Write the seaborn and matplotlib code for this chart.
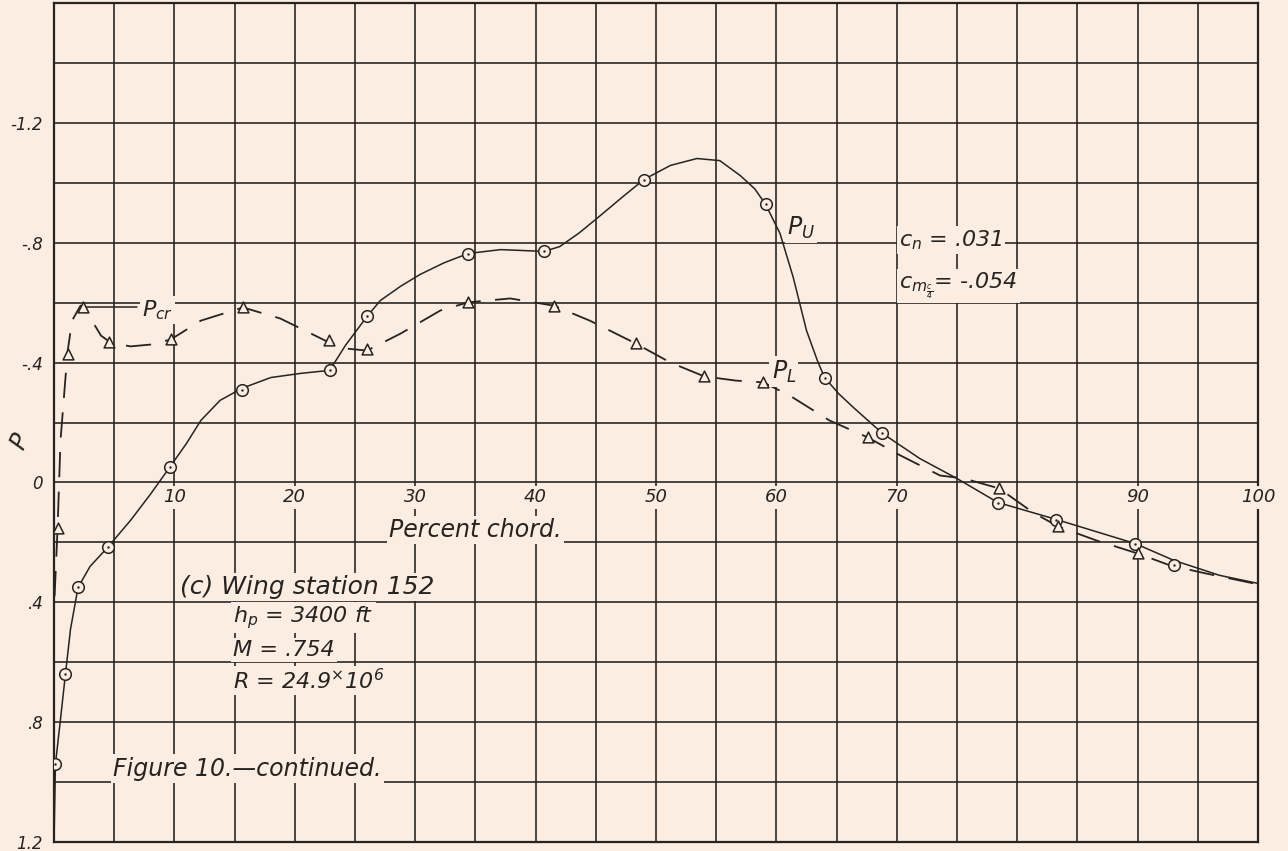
import numpy as np
import pandas as pd
import matplotlib
matplotlib.use("Agg")
import matplotlib.pyplot as plt
import seaborn as sns

# ---------------- data ----------------
# Upper-surface pressure coefficient, measured orifices (circles)
pu_x = [0.1, 0.95, 2.0, 4.45, 9.6, 15.6, 22.9, 26.0, 34.4, 40.7, 49.0, 59.1,
        64.0, 68.8, 78.4, 83.2, 89.8, 93.0]
pu_y = [0.94, 0.64, 0.35, 0.217, -0.05, -0.31, -0.374, -0.554, -0.764, -0.771,
        -1.01, -0.928, -0.35, -0.164, 0.067, 0.124, 0.204, 0.277]
# Upper-surface faired curve
pu_fx = [0.0, 0.12, 0.54, 0.95, 1.37, 2.0, 3.0, 4.45, 6.35, 8.0, 9.6, 11.0,
         12.2, 13.8, 15.6, 18.0, 20.5, 22.9, 24.2, 26.0, 27.1, 28.8, 30.4,
         32.4, 34.4, 37.1, 40.7, 42.0, 43.6, 45.3, 47.2, 49.0, 51.2, 53.4,
         55.3, 57.0, 58.2, 59.1, 60.3, 61.4, 62.5, 63.4, 64.0, 65.2, 66.4,
         68.8, 71.9, 75.0, 78.4, 83.2, 89.8, 93.0, 96.8, 100.0]
pu_fy = [1.2, 0.94, 0.79, 0.64, 0.49, 0.35, 0.28, 0.217, 0.127, 0.04, -0.05,
         -0.13, -0.207, -0.274, -0.314, -0.35, -0.364, -0.374, -0.457, -0.554,
         -0.607, -0.655, -0.694, -0.733, -0.764, -0.777, -0.771, -0.787,
         -0.832, -0.888, -0.952, -1.011, -1.058, -1.081, -1.074, -1.024,
         -0.98, -0.928, -0.831, -0.684, -0.507, -0.407, -0.35, -0.295, -0.25,
         -0.164, -0.08, -0.013, 0.067, 0.123, 0.204, 0.26, 0.31, 0.337]

# Lower-surface pressure coefficient, measured orifices (triangles)
pl_x = [0.37, 1.2, 2.4, 4.6, 9.7, 15.7, 22.8, 26.0, 34.4, 41.5, 48.3, 54.0,
        58.9, 67.6, 78.5, 83.4, 90.0]
pl_y = [0.153, -0.43, -0.585, -0.467, -0.477, -0.584, -0.474, -0.444, -0.601,
        -0.59, -0.464, -0.354, -0.334, -0.15, 0.02, 0.147, 0.237]
# Lower-surface faired curve
pl_fx = [0.05, 0.3, 0.54, 1.12, 1.5, 2.2, 2.9, 3.9, 4.7, 6.35, 8.0, 9.7, 12.2,
         15.7, 18.8, 22.7, 24.2, 26.0, 28.8, 32.1, 34.4, 37.9, 41.5, 44.5,
         48.3, 51.2, 54.0, 56.6, 58.9, 61.1, 64.4, 67.6, 70.3, 73.6, 75.6,
         78.5, 81.3, 83.4, 86.6, 90.0, 92.7, 95.7, 100.0]
pl_fy = [0.38, 0.15, -0.14, -0.434, -0.54, -0.59, -0.557, -0.49, -0.467,
         -0.454, -0.46, -0.477, -0.54, -0.584, -0.547, -0.47, -0.447, -0.44,
         -0.497, -0.574, -0.601, -0.614, -0.59, -0.54, -0.464, -0.40, -0.354,
         -0.34, -0.334, -0.29, -0.207, -0.15, -0.09, -0.023, -0.013, 0.02, 0.1,
         0.147, 0.194, 0.237, 0.277, 0.304, 0.34]

# Critical pressure coefficient marker
pcr_x = [2.45, 6.9]
pcr_y = [-0.584, -0.584]

# Axis labels / ticks
x_tick_vals = [10, 20, 30, 40, 50, 60, 70, 90, 100]
x_tick_text = ["10", "20", "30", "40", "50", "60", "70", "90", "100"]
y_label_vals = [-1.2, -0.8, -0.4, 0.0, 0.4, 0.8, 1.2]
y_label_text = ["-1.2", "-.8", "-.4", "0", ".4", ".8", "1.2"]

# ---------------- styling ----------------
paper = "#fbede1"
ink = "#262321"

sns.set_theme(style="white")
plt.rcParams["font.family"] = ["DejaVu Sans"]
plt.rcParams["font.style"] = "italic"
plt.rcParams["mathtext.fontset"] = "dejavusans"
plt.rcParams["mathtext.default"] = "it"

fig = plt.figure(figsize=(12.88, 8.51), dpi=100, facecolor=paper)
ax = fig.add_axes([54 / 1288, 1 - 842 / 851, (1258 - 54) / 1288, (842 - 3) / 851])
ax.set_facecolor(paper)

ax.set_xlim(0, 100)
ax.set_ylim(1.2, -1.6)

ax.set_xticks(np.arange(0, 101, 5))
ax.set_xticklabels([])
yt = np.round(np.arange(-1.6, 1.21, 0.2), 2)
ax.set_yticks(yt)
lab_map = {round(v, 2): t for v, t in zip(y_label_vals, y_label_text)}
ax.set_yticklabels([lab_map.get(round(v, 2), "") for v in yt],
                   fontsize=12, style="italic", color=ink)
ax.tick_params(axis="both", length=0, pad=8)
ax.grid(True, color=ink, linewidth=1.3, alpha=0.9)
ax.set_axisbelow(True)
for s in ax.spines.values():
    s.set_color(ink)
    s.set_linewidth(1.6)

bg = dict(facecolor=paper, edgecolor="none", pad=1.5)

# ---------------- curves ----------------
df_u = pd.DataFrame({"x": pu_fx, "y": pu_fy})
df_l = pd.DataFrame({"x": pl_fx, "y": pl_fy})
sns.lineplot(data=df_u, x="x", y="y", sort=False, ax=ax, color=ink,
             linewidth=1.1, zorder=3)
sns.lineplot(data=df_l, x="x", y="y", sort=False, ax=ax, color=ink,
             linewidth=1.3, linestyle=(0, (14, 8)), zorder=3)
sns.lineplot(x=pcr_x, y=pcr_y, ax=ax, color=ink, linewidth=1.1, zorder=3)

sns.scatterplot(x=pu_x, y=pu_y, ax=ax, marker="o", s=70, facecolor=paper,
                edgecolor=ink, linewidth=1.1, zorder=4)
sns.scatterplot(x=pu_x, y=pu_y, ax=ax, marker="o", s=3, color=ink,
                linewidth=0, zorder=5)
sns.scatterplot(x=pl_x, y=pl_y, ax=ax, marker="^", s=60, facecolor=paper,
                edgecolor=ink, linewidth=1.1, zorder=4)

ax.set_xlabel("")
ax.set_ylabel("")
fig.text(20 / 1288, 1 - 442 / 851, "P", fontsize=17, style="italic",
         color=ink, rotation=65, ha="center", va="center")

# ---------------- x tick labels drawn inside the grid ----------------
for xv, tx in zip(x_tick_vals, x_tick_text):
    ax.text(xv, 0.05, tx, fontsize=13, style="italic", color=ink,
            ha="center", va="center", bbox=bg, zorder=6)

# ---------------- annotations ----------------
ax.text(35.0, 0.16, "Percent chord.", fontsize=17, ha="center", va="center",
        color=ink, bbox=bg, zorder=6)
ax.text(10.5, 0.35, "(c) Wing station 152", fontsize=18, ha="left",
        va="center", color=ink, bbox=bg, zorder=6)
ax.text(14.9, 0.45, r"$h_p$ = 3400 ft", fontsize=16, ha="left", va="center",
        color=ink, bbox=bg, zorder=6)
ax.text(14.9, 0.56, "M = .754", fontsize=16, ha="left", va="center",
        color=ink, bbox=bg, zorder=6)
ax.text(14.9, 0.66, r"R = 24.9$^{\times}$10$^{6}$", fontsize=16, ha="left",
        va="center", color=ink, bbox=bg, zorder=6)
ax.text(4.9, 0.955, "Figure 10.\u2014continued.", fontsize=17, ha="left",
        va="center", color=ink, bbox=bg, zorder=6)

ax.text(7.3, -0.575, r"$P_{cr}$", fontsize=16, ha="left", va="center",
        color=ink, bbox=bg, zorder=6)
ax.text(60.9, -0.85, r"$P_U$", fontsize=17, ha="left", va="center",
        color=ink, bbox=bg, zorder=6)
ax.text(59.6, -0.37, r"$P_L$", fontsize=17, ha="left", va="center",
        color=ink, bbox=bg, zorder=6)
ax.text(70.2, -0.81, r"$c_n$ = .031", fontsize=16, ha="left", va="center",
        color=ink, bbox=bg, zorder=6)
ax.text(70.2, -0.655, r"$c_{m_{\frac{c}{4}}}$= -.054", fontsize=16,
        ha="left", va="center", color=ink, bbox=bg, zorder=6)

fig.savefig("out.png", dpi=100, facecolor=paper)
